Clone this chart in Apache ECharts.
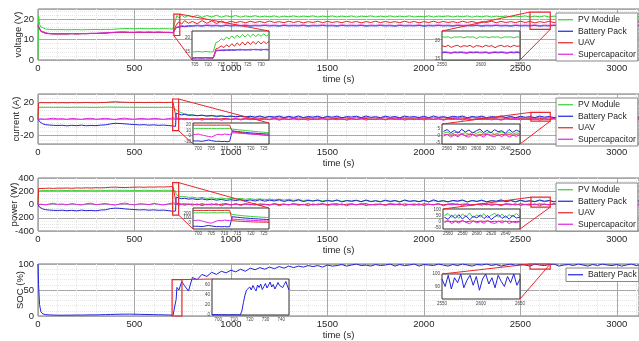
<!DOCTYPE html>
<html>
<head>
<meta charset="utf-8">
<script src="https://cdn.jsdelivr.net/npm/echarts@6/dist/echarts.min.js"></script>
<style>
  html, body { margin: 0; padding: 0; background: #fff; }
  #main { width: 639px; height: 341px; }
</style>
</head>
<body>
<div id="main"></div>
<script>
// ---- main time axis (s) ----
const tMain = [0, 3, 8, 15, 25, 40, 60, 80, 100,
  125, 150, 175, 200, 225, 250, 275, 300, 325, 350, 375, 400, 425, 450, 475, 500, 525, 550, 575, 600, 625, 650, 675, 700,
  710, 713, 716, 720, 730, 745, 760, 780,
  800, 825, 850, 875, 900, 925, 950, 975, 1000, 1025,
  1050, 1075, 1100, 1125, 1150, 1175, 1200, 1225, 1250, 1275,
  1300, 1325, 1350, 1375, 1400, 1425, 1450, 1475, 1500, 1525,
  1550, 1575, 1600, 1625, 1650, 1675, 1700, 1725, 1750, 1775,
  1800, 1825, 1850, 1875, 1900, 1925, 1950, 1975, 2000, 2025,
  2050, 2075, 2100, 2125, 2150, 2175, 2200, 2225, 2250, 2275,
  2300, 2325, 2350, 2375, 2400, 2425, 2450, 2475, 2500, 2525,
  2550, 2575, 2600, 2625, 2650, 2675, 2700, 2725, 2750, 2775,
  2800, 2825, 2850, 2875, 2900, 2925, 2950, 2975, 3000, 3025,
  3050, 3075, 3100, 3115]

// ---- voltage (V) ----
const vPV = [0, 21.5, 17.5, 16.2, 15.6, 15.2, 15, 14.9, 14.9,
  14.9, 14.8, 14.9, 14.9, 14.8, 14.9, 14.9, 15, 14.9, 15, 15, 15.1, 15.3, 15.4, 15.4, 15.3, 15.4, 15.4, 15.3, 15.4, 15.3, 15.4, 15.3, 15.2,
  15.2, 15.1, 20.6, 21.8, 20.7, 22.0, 20.9, 21.9,
  21.0, 22.0, 20.9, 21.8, 21.1, 21.9, 21.0, 21.7, 21.2, 21.8,
  21.0, 21.6, 21.2, 21.7, 21.1, 21.5, 21.2, 21.6, 21.0, 21.5,
  21.2, 21.6, 21.1, 21.5, 21.3, 21.6, 21.1, 21.5, 21.2, 21.6,
  21.1, 21.5, 21.2, 21.6, 21.0, 21.5, 21.3, 21.6, 21.1, 21.5,
  21.2, 21.6, 21.1, 21.5, 21.2, 21.6, 21.1, 21.4, 21.2, 21.6,
  21.1, 21.5, 21.3, 21.6, 21.1, 21.5, 21.2, 21.6, 21.0, 21.5,
  21.2, 21.6, 21.1, 21.5, 21.2, 21.6, 21.1, 21.5, 21.3, 21.6,
  21.1, 21.5, 21.2, 21.6, 21.1, 21.5, 21.2, 21.6, 21.1, 21.5,
  21.2, 21.6, 21.1, 21.5, 21.2, 21.6, 21.0, 21.5, 21.2, 21.6,
  21.1, 21.5, 21.2, 21.4]
const vBat = [16.8, 17.0, 15.3, 14.1, 13.5, 13.1, 12.9, 12.8, 12.8,
  12.8, 12.8, 12.9, 12.8, 12.9, 12.9, 13.0, 13.0, 13.1, 13.2, 13.4, 13.5, 13.6, 13.6, 13.5, 13.5, 13.6, 13.5, 13.6, 13.5, 13.6, 13.5, 13.5, 13.4,
  13.4, 13.4, 15.8, 16.2, 16.1, 16.5, 16.3, 16.6,
  16.6, 16.8, 16.6, 16.9, 16.7, 16.8, 16.6, 16.9, 16.7, 16.8,
  16.7, 16.9, 16.6, 16.8, 16.7, 16.9, 16.7, 16.8, 16.6, 16.9,
  16.7, 16.8, 16.7, 16.9, 16.6, 16.8, 16.7, 16.9, 16.7, 16.8,
  16.6, 16.9, 16.7, 16.8, 16.7, 16.9, 16.6, 16.8, 16.7, 16.9,
  16.7, 16.8, 16.6, 16.9, 16.7, 16.8, 16.7, 16.9, 16.6, 16.8,
  16.7, 16.9, 16.7, 16.8, 16.6, 16.9, 16.7, 16.8, 16.7, 16.9,
  16.6, 16.8, 16.7, 16.9, 16.7, 16.8, 16.6, 16.9, 16.7, 16.8,
  16.7, 16.9, 16.6, 16.8, 16.7, 16.9, 16.7, 16.8, 16.6, 16.9,
  16.7, 16.8, 16.7, 16.9, 16.6, 16.8, 16.7, 16.9, 16.7, 16.8,
  16.6, 16.9, 16.7, 16.8]
const vUAV = [16.5, 16.8, 15.2, 14.0, 13.4, 13.1, 12.9, 12.8, 12.8,
  12.8, 12.8, 12.9, 12.8, 12.9, 12.9, 13.0, 13.0, 13.1, 13.2, 13.4, 13.5, 13.6, 13.6, 13.5, 13.5, 13.6, 13.5, 13.6, 13.5, 13.6, 13.5, 13.5, 13.4,
  13.4, 13.4, 17.0, 17.9, 18.8, 17.6, 19.3, 18.0,
  18.9, 17.8, 19.3, 18.0, 19.2, 17.9, 19.1, 18.2, 19.0, 18.3,
  18.9, 18.2, 19.0, 18.4, 18.9, 18.3, 19.1, 18.4, 18.8, 18.3,
  19.0, 18.4, 18.9, 18.2, 18.8, 18.4, 19.0, 18.3, 18.9, 18.4,
  18.8, 18.3, 19.0, 18.4, 18.9, 18.2, 18.8, 18.4, 19.0, 18.3,
  18.9, 18.4, 18.8, 18.3, 19.0, 18.4, 18.9, 18.2, 18.8, 18.4,
  19.0, 18.3, 18.9, 18.4, 18.8, 18.3, 19.0, 18.4, 18.9, 18.2,
  18.8, 18.4, 19.0, 18.3, 18.9, 18.4, 18.8, 18.3, 19.0, 18.4,
  18.9, 18.2, 18.8, 18.4, 19.0, 18.3, 18.9, 18.4, 18.8, 18.3,
  19.0, 18.4, 18.9, 18.2, 18.8, 18.4, 19.0, 18.3, 18.9, 18.4,
  18.8, 18.3, 19.0, 18.7]
const vSC = [17.4, 17.6, 15.6, 14.3, 13.7, 13.3, 13.0, 12.9, 12.9,
  12.9, 12.9, 13.0, 12.9, 13.0, 13.0, 13.1, 13.1, 13.2, 13.3, 13.5, 13.6, 13.7, 13.7, 13.6, 13.6, 13.7, 13.6, 13.7, 13.6, 13.7, 13.6, 13.6, 13.5,
  13.5, 13.5, 16.0, 16.5, 16.4, 16.8, 16.6, 16.9,
  16.9, 17.1, 16.9, 17.2, 17.0, 17.1, 16.9, 17.2, 17.0, 17.1,
  17.0, 17.2, 16.9, 17.1, 17.0, 17.2, 17.0, 17.1, 16.9, 17.2,
  17.0, 17.1, 17.0, 17.2, 16.9, 17.1, 17.0, 17.2, 17.0, 17.1,
  16.9, 17.2, 17.0, 17.1, 17.0, 17.2, 16.9, 17.1, 17.0, 17.2,
  17.0, 17.1, 16.9, 17.2, 17.0, 17.1, 17.0, 17.2, 16.9, 17.1,
  17.0, 17.2, 17.0, 17.1, 16.9, 17.2, 17.0, 17.1, 17.0, 17.2,
  16.9, 17.1, 17.0, 17.2, 17.0, 17.1, 16.9, 17.2, 17.0, 17.1,
  17.0, 17.2, 16.9, 17.1, 17.0, 17.2, 17.0, 17.1, 16.9, 17.2,
  17.0, 17.1, 17.0, 17.2, 16.9, 17.1, 17.0, 17.2, 17.0, 17.1,
  16.9, 17.2, 17.0, 17.1]

// ---- current (A) ----
const cPV = [0, 14, 14.1, 14.0, 14.2, 14.0, 14.1, 13.9, 14.0,
  14.1, 13.9, 14.0, 14.2, 14.0, 14.1, 13.9, 14.0, 14.1, 14.2, 14.3, 14.1, 14.2, 14.0, 14.1, 14.0, 14.1, 13.9, 14.0, 14.1, 13.9, 14.0, 14.1, 13.9,
  13.9, 13.6, 11.0, 10.2, 8.8, 7.4, 6.2, 5.3,
  4.8, 4.2, 4.4, 3.6, 3.9, 3.2, 3.5, 2.8, 3.1, 2.6,
  2.9, 2.3, 2.7, 2.0, 2.5, 1.9, 2.4, 1.7, 2.2, 1.6,
  2.1, 1.5, 2.2, 1.4, 2.0, 1.3, 1.9, 1.5, 2.1, 1.2,
  1.9, 1.3, 2.0, 1.1, 1.8, 1.4, 2.0, 1.2, 1.7, 1.3,
  1.9, 1.1, 1.8, 1.4, 2.0, 1.2, 1.7, 1.3, 1.9, 1.1,
  1.8, 1.3, 2.0, 1.2, 1.7, 1.4, 1.9, 1.1, 1.8, 1.3,
  2.0, 1.2, 1.7, 1.4, 1.9, 1.1, 1.8, 1.3, 2.0, 1.2,
  1.7, 1.4, 1.9, 1.1, 1.8, 1.3, 2.0, 1.2, 1.7, 1.4,
  1.9, 1.1, 1.8, 1.3, 2.0, 1.2, 1.7, 1.4, 1.9, 1.1,
  1.8, 1.3, 1.6, 1.4]
const cBat = [0, -2, -3.2, -4.6, -5.8, -6.8, -7.3, -7.6, -7.8,
  -7.5, -8.2, -7.6, -8.0, -7.4, -8.1, -7.7, -8.0, -7.3, -7.0, -5.9, -5.2, -5.4, -5.8, -6.3, -6.6, -7.1, -6.8, -7.4, -7.0, -7.6, -7.3, -7.8, -8.4,
  -9.5, -8.8, 7.0, 6.2, 5.8, 4.9, 5.6, 4.4,
  4.8, 3.9, 4.6, 3.5, 4.2, 3.2, 3.9, 2.9, 3.6, 2.7,
  3.4, 2.5, 3.3, 2.2, 3.6, 1.9, 3.1, 2.4, 3.5, 1.8,
  3.2, 2.0, 3.6, 1.7, 3.0, 2.3, 3.4, 1.6, 3.1, 2.2,
  3.5, 1.5, 2.9, 2.4, 3.3, 1.7, 3.6, 2.0, 2.8, 1.6,
  3.4, 2.1, 3.0, 1.5, 3.5, 2.3, 2.9, 1.8, 3.3, 1.6,
  3.6, 2.0, 2.8, 1.7, 3.2, 2.4, 3.5, 1.5, 3.0, 2.2,
  3.4, 1.6, 2.9, 2.3, 3.6, 1.8, 3.1, 1.5, 3.3, 2.1,
  2.8, 1.7, 3.5, 2.2, 3.0, 1.6, 3.4, 2.4, 2.9, 1.8,
  3.2, 1.5, 3.6, 2.1, 3.0, 1.9, 3.3, 1.6, 2.8, 2.2,
  3.4, 1.7, 3.0, 2.3]
const cUAV = [0, 19.2, 19.5, 19.6, 19.4, 19.6, 19.5, 19.7, 19.5,
  19.6, 19.4, 19.7, 19.5, 19.6, 19.8, 19.6, 19.5, 19.7, 19.9, 20.4, 20.6, 20.3, 20.1, 19.9, 19.8, 20.0, 19.7, 19.9, 19.8, 20.0, 19.8, 19.9, 20.1,
  20.0, 19.8, 1.2, 0.6, 0.9, 0.2, 0.7, -0.2,
  0.4, -0.3, 0.6, -0.2, 0.5, -0.4, 0.3, 0.7, -0.3, 0.4,
  -0.2, 0.6, 0.1, -0.4, 0.5, 0.2, -0.3, 0.7, 0.0, 0.4,
  -0.3, 0.5, 0.2, -0.2, 0.6, -0.4, 0.3, 0.5, -0.1, 0.4,
  0.6, -0.3, 0.2, 0.5, -0.2, 0.4, 0.7, -0.4, 0.3, 0.1,
  -0.2, 0.6, 0.3, -0.3, 0.5, 0.0, 0.4, -0.4, 0.6, 0.2,
  -0.1, 0.5, -0.3, 0.4, 0.7, -0.2, 0.3, 0.5, -0.4, 0.2,
  0.6, -0.3, 0.4, 0.1, -0.2, 0.5, 0.3, -0.4, 0.6, 0.0,
  0.4, -0.2, 0.5, 0.2, -0.3, 0.7, -0.1, 0.4, 0.3, -0.4,
  0.5, 0.1, -0.3, 0.6, 0.2, -0.2, 0.4, 0.5, -0.3, 0.3,
  0.6, -0.2, 0.4, 0.3]
const cSC = [0, -0.5, 0.6, 0.2, 0.8, -0.2, 0.5, 0.9, 0.1,
  0.4, -0.3, 0.7, 0.2, -0.4, 0.6, 0.9, -0.2, 0.3, 0.8, 0.1, -0.5, 0.5, 1.0, 0.2, -0.3, 0.6, 0.4, -0.1, 0.8, 0.3, -0.4, 0.5, 1.2,
  1.5, 0.8, -0.5, 0.9, -0.8, 0.4, -0.9, 0.5,
  -1.0, 0.6, -1.4, 0.3, -0.7, 0.9, -1.5, 0.2, -0.9, 0.7,
  -1.2, 0.4, -0.6, 1.0, -1.3, 0.1, -0.8, 0.8, -1.5, 0.3,
  -0.5, 0.9, -1.1, 0.2, -1.4, 0.6, -0.7, 1.0, -1.2, 0.0,
  -0.9, 0.7, -1.5, 0.4, -0.6, 0.9, -1.3, 0.1, -0.8, 0.6,
  -1.1, 0.3, -0.5, 1.0, -1.4, 0.2, -0.9, 0.8, -1.2, 0.4,
  -0.7, 0.9, -1.5, 0.1, -0.6, 0.7, -1.3, 0.5, -1.0, 0.2,
  -0.8, 1.0, -1.2, 0.3, -1.5, 0.6, -0.6, 0.9, -1.1, 0.0,
  -0.9, 0.7, -1.4, 0.4, -0.5, 0.8, -1.3, 0.2, -1.0, 0.6,
  -1.2, 0.3, -0.7, 1.0, -1.5, 0.1, -0.8, 0.9, -1.1, 0.5,
  -0.6, 0.7, -1.2, -0.2]

// ---- power (W) ----
const pPV = [0, 205, 212, 208, 215, 210, 214, 211, 215,
  213, 210, 215, 211, 214, 212, 216, 213, 215, 212, 214, 216, 213, 215, 212, 214, 211, 215, 213, 214, 212, 215, 213, 214,
  212, 205, 150, 140, 128, 118, 120, 108,
  110, 96, 106, 92, 102, 88, 98, 85, 95, 82,
  92, 78, 88, 75, 85, 72, 82, 70, 80, 66,
  78, 62, 74, 60, 70, 56, 68, 54, 66, 50,
  64, 48, 62, 46, 60, 44, 62, 42, 58, 46,
  60, 40, 58, 44, 62, 42, 56, 46, 60, 40,
  58, 44, 62, 40, 56, 46, 60, 42, 58, 44,
  62, 40, 56, 46, 60, 42, 58, 44, 62, 40,
  56, 46, 60, 42, 58, 44, 62, 40, 56, 46,
  60, 42, 58, 44, 62, 40, 56, 46, 60, 42,
  58, 44, 60, 48]
const pBat = [0, -25, -40, -55, -68, -78, -84, -88, -90,
  -86, -94, -88, -96, -85, -93, -89, -95, -84, -80, -62, -55, -58, -66, -72, -76, -82, -78, -86, -80, -88, -84, -92, -102,
  -110, -98, 112, 104, 98, 88, 95, 80,
  88, 74, 85, 70, 80, 66, 76, 62, 72, 60,
  74, 56, 70, 52, 72, 50, 66, 54, 70, 46,
  64, 50, 70, 44, 62, 52, 66, 42, 60, 50,
  68, 40, 58, 52, 64, 42, 68, 46, 56, 40,
  66, 48, 60, 38, 68, 50, 58, 42, 64, 40,
  70, 46, 56, 40, 62, 52, 68, 38, 60, 48,
  66, 40, 58, 50, 70, 42, 62, 38, 64, 48,
  56, 42, 68, 50, 60, 40, 66, 52, 58, 44,
  62, 38, 70, 48, 60, 44, 64, 40, 56, 50,
  66, 42, 60, 52]
const pUAV = [0, 240, 245, 242, 248, 244, 247, 243, 248,
  246, 249, 245, 250, 248, 252, 249, 253, 251, 255, 260, 262, 258, 256, 259, 261, 263, 260, 264, 262, 266, 264, 268, 270,
  268, 262, 18, 10, 14, 5, 12, 2,
  8, -6, 12, -4, 10, -8, 6, 14, -5, 9,
  -3, 11, 2, -7, 9, 4, -5, 13, 0, 7,
  -6, 10, 3, -4, 12, -8, 5, 9, -2, 8,
  11, -5, 4, 10, -3, 7, 13, -7, 6, 2,
  -4, 12, 5, -6, 9, 0, 8, -8, 11, 3,
  -2, 10, -6, 7, 13, -3, 5, 9, -7, 4,
  12, -5, 8, 2, -4, 10, 6, -8, 11, 0,
  7, -3, 9, 4, -6, 13, -2, 8, 5, -7,
  10, 2, -5, 12, 3, -4, 8, 9, -6, 5,
  11, -3, 7, 2]
const pSC = [0, -10, 12, 5, 15, -5, 10, 18, 3,
  8, -5, 15, 2, -8, 12, 20, -3, 6, 16, 1, -10, 10, 22, 4, -6, 12, 8, -2, 17, 5, -8, 10, 24,
  25, 15, -8, 18, -12, 8, -15, 10,
  -12, 10, -18, 6, -8, 14, -20, 4, -10, 12,
  -16, 8, -6, 15, -18, 2, -10, 12, -20, 5,
  -5, 13, -14, 3, -19, 9, -8, 14, -15, 0,
  -11, 10, -20, 6, -7, 13, -17, 2, -9, 9,
  -14, 4, -5, 15, -18, 3, -12, 11, -16, 6,
  -8, 13, -20, 1, -6, 10, -17, 7, -13, 3,
  -10, 14, -15, 4, -19, 9, -7, 12, -14, 0,
  -11, 10, -18, 6, -5, 12, -16, 3, -12, 8,
  -15, 4, -8, 14, -20, 2, -10, 13, -13, 7,
  -6, 10, -15, -2]

// ---- SOC (%) ----
const socBat = [100, 60, 22, 8, 4, 2.6, 2.1, 1.8, 1.6,
  1.5, 1.7, 1.6, 1.9, 1.8, 2.0, 2.2, 2.1, 2.4, 2.6, 2.9, 3.2, 3.4, 3.5, 3.6, 3.4, 3.2, 3.0, 2.8, 2.6, 2.4, 2.2, 2.0, 1.6,
  0.8, 0.5, 32, 55, 50, 66, 58, 48,
  74, 70, 80, 76, 84, 80, 86, 83, 88, 85,
  90, 86, 92, 89, 93, 90, 94, 91, 95, 92,
  96, 93, 96, 94, 97, 95, 97, 94, 98, 96,
  97, 99, 96, 98, 100, 97, 98, 96, 99, 97,
  98, 100, 96, 99, 97, 98, 100, 96, 99, 98,
  97, 100, 98, 96, 99, 97, 100, 98, 96, 99,
  98, 100, 97, 99, 96, 98, 100, 97, 99, 98,
  96, 100, 98, 97, 99, 100, 96, 98, 99, 97,
  100, 98, 96, 99, 97, 100, 98, 97, 99, 96,
  98, 100, 97, 98]

// ---- inset data ----
const tV1 = [704, 705, 706, 707, 708, 709, 710, 711, 712, 713, 714, 715, 716, 717, 718, 719, 720, 721, 722, 723, 724, 725, 726, 727, 728, 729, 730, 731, 732, 733]
const v1PV = [15.0, 14.9, 15.1, 15.0, 14.9, 15.1, 15.0, 14.9, 15.0, 18.3, 18.7, 19.7, 19.2, 20.3, 19.6, 20.7, 19.9, 21.0, 20.1, 21.2, 20.3, 21.3, 20.4, 21.4, 20.5, 21.3, 20.6, 21.5, 20.7, 21.3]
const v1Bat = [12.7, 12.7, 12.8, 12.7, 12.7, 12.8, 12.7, 12.7, 12.7, 15.3, 15.4, 15.5, 15.4, 15.6, 15.5, 15.6, 15.5, 15.7, 15.6, 15.7, 15.6, 15.7, 15.6, 15.8, 15.7, 15.7, 15.6, 15.8, 15.7, 15.7]
const v1UAV = [12.8, 12.8, 12.9, 12.8, 12.8, 12.9, 12.8, 12.8, 12.8, 16.0, 16.4, 17.1, 16.5, 17.5, 16.8, 17.9, 17.0, 18.2, 17.3, 18.5, 17.4, 18.6, 17.6, 18.7, 17.7, 18.8, 17.8, 18.7, 17.9, 18.8]
const v1SC = [12.8, 12.8, 12.8, 12.9, 12.8, 12.8, 12.9, 12.8, 12.8, 15.5, 15.6, 15.6, 15.7, 15.6, 15.8, 15.7, 15.8, 15.7, 15.9, 15.8, 15.8, 15.7, 15.9, 15.8, 15.9, 15.8, 15.9, 15.8, 15.9, 15.8]

const tV2 = [2550, 2554, 2558, 2562, 2566, 2570, 2574, 2578, 2582, 2586, 2590, 2594, 2598, 2602, 2606, 2610, 2614, 2618, 2622, 2626, 2630, 2634, 2638, 2642, 2646, 2650]
const v2PV = [21.3, 21.2, 21.3, 20.9, 21.3, 21.2, 21.3, 21.0, 21.3, 21.2, 21.3, 20.8, 21.3, 21.2, 21.3, 21.0, 21.3, 21.2, 21.3, 20.9, 21.3, 21.2, 21.3, 21.0, 21.3, 21.2]
const v2Bat = [16.6, 16.7, 16.6, 16.5, 16.7, 16.6, 16.7, 16.6, 16.5, 16.7, 16.6, 16.7, 16.6, 16.6, 16.7, 16.5, 16.6, 16.7, 16.6, 16.7, 16.6, 16.5, 16.7, 16.6, 16.7, 16.6]
const v2UAV = [18.7, 18.4, 18.8, 18.2, 18.6, 18.8, 18.3, 18.7, 18.5, 18.8, 18.2, 18.7, 18.6, 18.3, 18.8, 18.5, 18.7, 18.1, 18.6, 18.8, 18.4, 18.7, 18.3, 18.8, 18.5, 18.6]
const v2SC = [16.8, 16.9, 16.8, 16.7, 16.9, 16.8, 16.9, 16.8, 16.7, 16.9, 16.8, 16.9, 16.8, 16.8, 16.9, 16.7, 16.8, 16.9, 16.8, 16.9, 16.8, 16.7, 16.9, 16.8, 16.9, 16.8]

const tC1 = [698, 699, 700, 701, 702, 703, 704, 705, 706, 707, 708, 709, 710, 711, 712, 713, 714, 715, 716, 717, 718, 719, 720, 721, 722, 723, 724, 725, 726, 727]
const c1PV = [14, 14, 14.1, 14, 14, 13.9, 14, 14, 14, 14, 14, 14, 14, 14, 14.1, 12.5, 12.2, 11.6, 11.0, 10.6, 10.1, 9.5, 9.0, 8.6, 8.1, 7.6, 7.2, 6.8, 6.4, 6.0]
const c1Bat = [-9, -9.5, -9.2, -10, -9.6, -8.5, -7.5, -8.8, -9.5, -10.2, -9.8, -10.5, -10, -10.8, -10, 9.5, 8.8, 8.2, 7.5, 7.0, 6.6, 6.0, 5.6, 5.2, 4.9, 4.5, 4.2, 3.9, 3.6, 3.3]
const c1UAV = [20, 20, 20.1, 20, 19.9, 20, 20.1, 20, 20, 19.9, 20, 20.1, 20, 20, 19.9, 8.0, 7.4, 6.8, 6.3, 5.7, 5.0, 4.5, 4.0, 3.4, 2.9, 2.4, 1.9, 1.5, 1.0, 0.6]
const c1SC = [3, 2.5, 3.5, 2, 1, 0, -1, -2, 0, 2.5, 3, 2, 3.5, 3, 2.5, 5.5, 5.8, 5.3, 4.9, 4.5, 4.2, 3.8, 3.5, 3.1, 2.8, 2.5, 2.2, 1.9, 1.7, 1.4]

const tC2 = [2555, 2560, 2565, 2570, 2575, 2580, 2585, 2590, 2595, 2600, 2605, 2610, 2615, 2620, 2625, 2630, 2635, 2640, 2645, 2650, 2655, 2660]
const c2PV = [1.5, 2.4, 0.9, 1.8, 2.6, 1.1, 1.9, 0.7, 2.2, 1.4, 2.7, 1.0, 1.7, 2.3, 0.8, 1.6, 2.5, 1.2, 2.0, 0.9, 1.8, 1.3]
const c2Bat = [2.8, 4.1, 1.9, 3.5, 1.6, 4.3, 2.4, 3.8, 1.7, 3.2, 4.4, 2.0, 3.6, 1.8, 4.0, 2.6, 3.3, 1.5, 4.2, 2.2, 3.7, 2.5]
const c2UAV = [0.3, 0.6, 0.1, 0.5, 0.2, 0.7, 0.0, 0.4, 0.6, 0.1, 0.5, 0.3, 0.7, 0.2, 0.4, 0.0, 0.6, 0.3, 0.5, 0.1, 0.4, 0.2]
const c2SC = [-0.5, 0.8, -1.2, 0.3, -0.9, 1.0, -0.4, -1.3, 0.6, -0.7, 0.2, -1.1, 0.9, -0.3, -1.0, 0.5, -0.8, 0.7, -1.2, 0.1, -0.6, 0.4]

const p1PV = [212, 214, 211, 213, 215, 212, 210, 213, 214, 211, 213, 215, 212, 214, 212, 175, 168, 160, 154, 148, 142, 137, 132, 127, 123, 119, 115, 112, 109, 106]
const p1Bat = [-85, -90, -88, -95, -92, -80, -70, -82, -90, -98, -95, -100, -96, -102, -98, 125, 118, 112, 106, 100, 95, 90, 86, 82, 78, 74, 70, 67, 64, 61]
const p1UAV = [265, 266, 264, 267, 265, 263, 266, 268, 265, 267, 266, 264, 267, 268, 266, 35, 30, 26, 22, 19, 16, 13, 11, 9, 7, 5, 4, 3, 2, 1]
const p1SC = [45, 40, 50, 35, 20, 5, -10, -20, 5, 30, 40, 35, 48, 42, 38, 70, 68, 64, 60, 56, 52, 48, 45, 42, 39, 36, 33, 31, 29, 27]

const p2PV = [55, 72, 38, 64, 30, 68, 45, 76, 35, 60, 42, 70, 33, 58, 74, 40, 66, 36, 62, 48, 71, 44]
const p2Bat = [40, 22, 58, 30, 62, 25, 52, 18, 48, 35, 60, 28, 55, 20, 45, 62, 30, 50, 24, 56, 33, 42]
const p2UAV = [5, 8, 2, 7, 4, 9, 1, 6, 8, 3, 7, 5, 9, 2, 6, 4, 8, 3, 7, 1, 5, 4]
const p2SC = [-5, 10, -14, 6, -10, 12, -3, -15, 8, -8, 4, -12, 11, -6, -13, 7, -9, 9, -14, 2, -7, 5]

const tS1 = [696, 697, 698, 699, 700, 701, 702, 703, 704, 705, 706, 707, 708, 709, 710, 711, 712, 713, 714,
  715, 716, 717, 718, 719, 720, 721, 722, 723, 724, 725, 726, 727, 728, 729, 730, 731, 732, 733, 734, 735, 736, 737, 738, 739, 740, 741, 742, 743, 744, 745]
const s1Bat = [0.8, 0.6, 0.7, 0.5, 0.6, 0.4, 0.5, 0.6, 0.4, 0.5, 0.3, 0.5, 0.4, 0.3, 0.5, 0.4, 0.3, 0.4, 0.2,
  8, 25, 40, 50, 46, 56, 50, 59, 53, 48, 60, 55, 62, 51, 57, 63, 54, 60, 66, 56, 61, 52, 58, 65, 59, 63, 55, 61, 67, 58, 50]
const tS2 = tV2
const s2Bat = [96, 90, 99, 88, 97, 93, 100, 89, 95, 99, 91, 98, 87, 96, 100, 92, 97, 89, 99, 94, 90, 98, 93, 100, 91, 96]

// ---- tick labels ----
const xTicksV1 = [705, 710, 715, 720, 725, 730]
const xTicksC1 = [700, 705, 710, 715, 720, 725]
const xTicksS1 = [700, 710, 720, 730, 740]
const xTicks2550 = [2550, 2600, 2650]
const xTicks2560 = [2560, 2580, 2600, 2620, 2640]

const names = ['PV Module', 'Battery Pack', 'UAV', 'Supercapacitor']
const lineColors = ['#35d035', '#2222dd', '#e02424', '#e024e0']
const font = 'Liberation Sans, Arial, Helvetica, sans-serif'
const red = '#e8262a'

const chart = echarts.init(document.getElementById('main'))

// main panels
const mainBoxes = [
  { left: 38, top: 9, width: 601, height: 51 },
  { left: 38, top: 94, width: 601, height: 50 },
  { left: 38, top: 178, width: 601, height: 53 },
  { left: 38, top: 264, width: 601, height: 52 }
]
const mainY = [
  { name: 'voltage (V)', min: 0, max: 25, interval: 10, nameGap: 15, minor: 5, showMax: false },
  { name: 'current (A)', min: -30, max: 30, splitNumber: 3, nameGap: 17, minor: 4, showMax: false },
  { name: 'power (W)', min: -400, max: 400, interval: 200, nameGap: 19, minor: 4, showMax: true },
  { name: 'SOC (%)', min: 0, max: 100, interval: 50, nameGap: 13, minor: 5, showMax: true }
]

// insets: box, axis ranges, labels
const insets = [
  { box: { left: 192, top: 31, width: 77, height: 29 }, x: [704, 733], y: [12, 22.5], xl: xTicksV1, yl: [15, 20] },
  { box: { left: 442, top: 31, width: 78, height: 29 }, x: [2550, 2650], y: [14.5, 23], xl: xTicks2550, yl: [15, 20] },
  { box: { left: 193, top: 123, width: 76, height: 21 }, x: [698, 727], y: [-15, 24], xl: xTicksC1, yl: [-10, 0, 10, 20] },
  { box: { left: 442, top: 124, width: 78, height: 20 }, x: [2553, 2660], y: [-6, 8], xl: xTicks2560, yl: [-5, 0, 5] },
  { box: { left: 193, top: 208, width: 76, height: 21 }, x: [698, 727], y: [-150, 320], xl: xTicksC1, yl: [-100, 0, 100, 200, 300] },
  { box: { left: 443, top: 209, width: 77, height: 20 }, x: [2553, 2660], y: [-60, 110], xl: xTicks2560, yl: [-50, 0, 50, 100] },
  { box: { left: 212, top: 279, width: 77, height: 36 }, x: [696, 745], y: [0, 72], xl: xTicksS1, yl: [0, 20, 40, 60] },
  { box: { left: 442, top: 274, width: 78, height: 25 }, x: [2550, 2650], y: [80, 100], xl: xTicks2550, yl: [90, 100] }
]

// zoom rectangles on main panels and how they link to the insets
const zooms = [
  { main: 0, inset: 4, x: [704, 735], y: [12, 22.5], links: [['tr', 'tr'], ['bl', 'bl']] },
  { main: 0, inset: 5, x: [2550, 2655], y: [15, 23.5], links: [['tl', 'tl'], ['br', 'br']] },
  { main: 1, inset: 6, x: [698, 729], y: [-14, 24], links: [['tr', 'tr'], ['br', 'bl']] },
  { main: 1, inset: 7, x: [2555, 2655], y: [-2.5, 8], links: [['tl', 'tl'], ['br', 'br']] },
  { main: 2, inset: 8, x: [698, 729], y: [-160, 330], links: [['tr', 'tr'], ['br', 'bl']] },
  { main: 2, inset: 9, x: [2555, 2655], y: [-40, 110], links: [['tl', 'tl'], ['br', 'br']] },
  { main: 3, inset: 10, x: [695, 746], y: [0, 70], links: [['tr', 'tl']] },
  { main: 3, inset: 11, x: [2550, 2655], y: [90, 100], links: [['tl', 'tl'], ['tr', 'br']] }
]

const grid = []
const xAxis = []
const yAxis = []
const series = []

mainBoxes.forEach((b, i) => {
  grid.push(Object.assign({ show: true, borderColor: '#777', borderWidth: 1, z: 0, outerBoundsMode: 'none', containLabel: false }, b))
  xAxis.push({
    type: 'value', gridIndex: i, min: 0, max: 3115, interval: 500,
    name: 'time (s)', nameLocation: 'middle', nameGap: 14, nameMoveOverlap: false,
    nameTextStyle: { fontFamily: font, fontSize: 9.5, color: '#262626' },
    axisLine: { show: false }, axisTick: { show: false },
    axisLabel: { fontFamily: font, fontSize: 9.5, color: '#262626', margin: 3, showMaxLabel: false, formatter: v => String(v) },
    splitLine: { show: true, lineStyle: { color: '#a8a8a8', width: 1 } },
    minorTick: { show: false, splitNumber: 5 },
    minorSplitLine: { show: true, lineStyle: { color: '#e6e6e6', type: 'dotted' } }
  })
  const y = mainY[i]
  const ya = {
    type: 'value', gridIndex: i, min: y.min, max: y.max,
    name: y.name, nameLocation: 'middle', nameGap: y.nameGap, nameMoveOverlap: false,
    nameTextStyle: { fontFamily: font, fontSize: 9.5, color: '#262626' },
    axisLine: { show: false }, axisTick: { show: false },
    axisLabel: { fontFamily: font, fontSize: 9.5, color: '#262626', margin: 4, showMaxLabel: y.showMax, showMinLabel: i !== 1, formatter: v => String(v) },
    splitLine: { show: true, lineStyle: { color: '#a8a8a8', width: 1 } },
    minorTick: { show: false, splitNumber: y.minor },
    minorSplitLine: { show: true, lineStyle: { color: '#e6e6e6', type: 'dotted' } }
  }
  if (y.interval) ya.interval = y.interval
  if (y.splitNumber) ya.splitNumber = y.splitNumber
  yAxis.push(ya)
})

insets.forEach((ins, k) => {
  const gi = 4 + k
  grid.push(Object.assign({ show: true, backgroundColor: '#fff', borderColor: '#333', borderWidth: 1, z: 10, outerBoundsMode: 'none', containLabel: false }, ins.box))
  xAxis.push({
    type: 'value', gridIndex: gi, min: ins.x[0], max: ins.x[1], z: 12,
    axisLine: { show: false }, axisTick: { show: false }, splitLine: { show: false },
    axisLabel: { customValues: ins.xl, fontFamily: font, fontSize: 4.5, color: '#444', margin: 2, formatter: v => String(v) }
  })
  yAxis.push({
    type: 'value', gridIndex: gi, min: ins.y[0], max: ins.y[1], z: 12,
    axisLine: { show: false }, axisTick: { show: false }, splitLine: { show: false },
    axisLabel: { customValues: ins.yl, fontFamily: font, fontSize: 4.5, color: '#444', margin: 2, formatter: v => String(v) }
  })
})

function addLines(gi, t, arrays, z) {
  arrays.forEach((vals, k) => {
    if (!vals) return
    series.push({
      type: 'line', name: names[k], xAxisIndex: gi, yAxisIndex: gi,
      data: t.map((x, i) => [x, vals[i]]),
      symbol: 'none', showSymbol: false, silent: true, animation: false, z: z,
      lineStyle: { width: 1, color: lineColors[k] }, itemStyle: { color: lineColors[k] }
    })
  })
}

addLines(0, tMain, [vPV, vBat, vUAV, vSC], 2)
addLines(1, tMain, [cPV, cBat, cUAV, cSC], 2)
addLines(2, tMain, [pPV, pBat, pUAV, pSC], 2)
addLines(3, tMain, [null, socBat, null, null], 2)
addLines(4, tV1, [v1PV, v1Bat, v1UAV, v1SC], 13)
addLines(5, tV2, [v2PV, v2Bat, v2UAV, v2SC], 13)
addLines(6, tC1, [c1PV, c1Bat, c1UAV, c1SC], 13)
addLines(7, tC2, [c2PV, c2Bat, c2UAV, c2SC], 13)
addLines(8, tC1, [p1PV, p1Bat, p1UAV, p1SC], 13)
addLines(9, tC2, [p2PV, p2Bat, p2UAV, p2SC], 13)
addLines(10, tS1, [null, s1Bat, null, null], 13)
addLines(11, tS2, [null, s2Bat, null, null], 13)

function legendAt(top, left, data) {
  return {
    data: data, left: left, top: top, orient: 'vertical', selectedMode: false,
    icon: 'rect', itemWidth: 15, itemHeight: 1.2, itemGap: 2,
    backgroundColor: '#fff', borderColor: '#888', borderWidth: 1, padding: [2, 2],
    z: 20,
    textStyle: { fontFamily: font, fontSize: 8.6, color: '#262626', lineHeight: 9.5 }
  }
}

chart.setOption({
  animation: false,
  backgroundColor: '#fff',
  grid: grid,
  xAxis: xAxis,
  yAxis: yAxis,
  legend: [
    legendAt(13, 556, names),
    legendAt(98, 556, names),
    legendAt(183, 556, names),
    legendAt(268, 566, ['Battery Pack'])
  ],
  series: series
})

// red zoom boxes and connector lines
function cornersOf(gi, x0, x1, y0, y1) {
  const a = chart.convertToPixel({ gridIndex: gi }, [x0, y1])
  const b = chart.convertToPixel({ gridIndex: gi }, [x1, y0])
  return { tl: [a[0], a[1]], tr: [b[0], a[1]], bl: [a[0], b[1]], br: [b[0], b[1]] }
}

const graphics = []
zooms.forEach(zm => {
  const r = cornersOf(zm.main, zm.x[0], zm.x[1], zm.y[0], zm.y[1])
  const ins = insets[zm.inset - 4]
  const c = cornersOf(zm.inset, ins.x[0], ins.x[1], ins.y[0], ins.y[1])
  graphics.push({
    type: 'rect', z: 30, silent: true,
    shape: { x: r.tl[0], y: r.tl[1], width: r.br[0] - r.tl[0], height: r.br[1] - r.tl[1] },
    style: { fill: 'none', stroke: red, lineWidth: 1.2 }
  })
  zm.links.forEach(l => {
    const p = r[l[0]]
    const q = c[l[1]]
    graphics.push({
      type: 'line', z: 30, silent: true,
      shape: { x1: p[0], y1: p[1], x2: q[0], y2: q[1] },
      style: { stroke: red, lineWidth: 1 }
    })
  })
})
chart.setOption({ graphic: graphics })
</script>
</body>
</html>
